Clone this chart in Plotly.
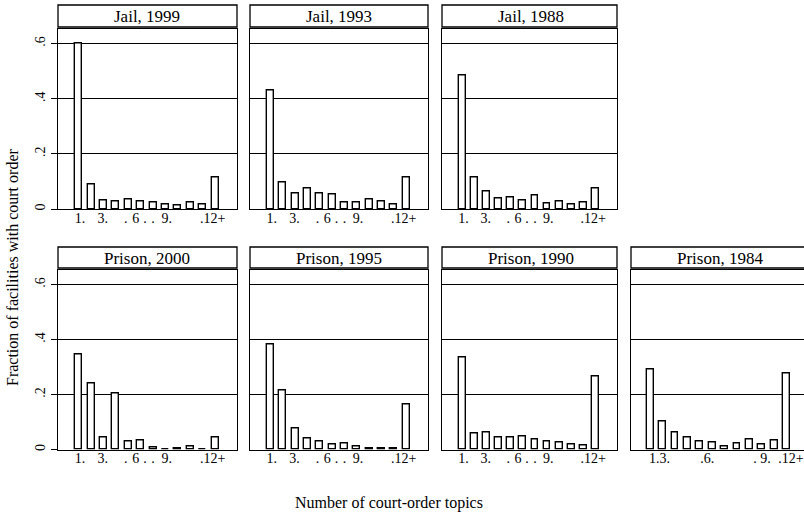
import plotly.graph_objects as go

# ---- data ----
categories = list(range(1, 13))  # 1 .. 11, 12+

jail_1999 = [0.600, 0.088, 0.032, 0.029, 0.035, 0.028, 0.023, 0.017, 0.012, 0.024, 0.018, 0.116]
jail_1993 = [0.429, 0.097, 0.058, 0.076, 0.056, 0.051, 0.024, 0.025, 0.034, 0.028, 0.018, 0.116]
jail_1988 = [0.485, 0.115, 0.062, 0.039, 0.041, 0.032, 0.048, 0.019, 0.027, 0.016, 0.024, 0.076]
prison_2000 = [0.347, 0.240, 0.045, 0.204, 0.029, 0.034, 0.008, 0.001, 0.004, 0.010, 0.000, 0.045]
prison_1995 = [0.381, 0.213, 0.075, 0.041, 0.029, 0.017, 0.021, 0.012, 0.004, 0.002, 0.005, 0.164]
prison_1990 = [0.335, 0.058, 0.061, 0.045, 0.042, 0.046, 0.036, 0.030, 0.024, 0.019, 0.013, 0.264]
prison_1984 = [0.291, 0.101, 0.061, 0.044, 0.028, 0.025, 0.012, 0.022, 0.035, 0.017, 0.034, 0.276]

panel_titles = ["Jail, 1999", "Jail, 1993", "Jail, 1988",
                "Prison, 2000", "Prison, 1995", "Prison, 1990", "Prison, 1984"]
panel_values = [jail_1999, jail_1993, jail_1988,
                prison_2000, prison_1995, prison_1990, prison_1984]

# x tick labels as printed in the (scanned) original
xtick_vals = [1.1, 2.95, 4.8, 5.6, 6.35, 7.0, 8.1, 11.8]
xtick_text = ["1.", "3.", ".", "6", ".", ".", "9.", ".12+"]
xtick_vals_1984 = [1.75, 5.6, 9.45, 10.3, 12.35]
xtick_text_1984 = ["1.3.", ".6.", ".", "9.", ".12+"]

ytick_vals = [0, 0.2, 0.4, 0.6]
ytick_text = ["0", ".2", ".4", ".6"]

x_title = "Number of court-order topics"
y_title = "Fraction of facilities with court order"

# ---- layout geometry (screen pixels) ----
W, H = 804, 518
col_px = [(58, 237), (250, 428), (442, 617), (631, 809)]
row_plot_px = [(28.5, 209), (269.5, 449.5)]   # (top, bottom)
row_strip_px = [(5, 27), (247, 268)]
grid_pos = [(0, 0), (0, 1), (0, 2), (1, 0), (1, 1), (1, 2), (1, 3)]

SERIF = "Liberation Serif"


def px_x(p):
    return min(p / W, 1.0)


def px_y(p):
    return 1 - p / H


fig = go.Figure()
layout = dict(
    width=W, height=H,
    margin=dict(l=0, r=0, t=0, b=0),
    paper_bgcolor="white", plot_bgcolor="white",
    showlegend=False,
    font=dict(family=SERIF, color="black"),
    bargap=0,
)
shapes, annotations = [], []

for i, (title, vals) in enumerate(zip(panel_titles, panel_values)):
    r, c = grid_pos[i]
    n = "" if i == 0 else str(i + 1)
    x0p, x1p = col_px[c]
    top, bot = row_plot_px[r]

    fig.add_trace(go.Bar(
        x=categories, y=vals, width=0.56,
        marker=dict(color="white", line=dict(color="black", width=1.4)),
        xaxis="x" + n, yaxis="y" + n, hoverinfo="skip",
    ))

    if c == 3:
        xr = [-0.55, -0.55 + (W - x0p) / 12.4]
        tv, tt = xtick_vals_1984, xtick_text_1984
    else:
        xr = [-0.67, 13.77]
        tv, tt = xtick_vals, xtick_text

    layout["xaxis" + n] = dict(
        domain=[px_x(x0p), px_x(x1p)], anchor="y" + n,
        range=xr, showgrid=False, zeroline=False,
        showline=True, mirror=True, linecolor="black", linewidth=1.3,
        tickmode="array", tickvals=tv, ticktext=tt, ticks="",
        tickangle=0, ticklabelstandoff=-4,
        tickfont=dict(family=SERIF, size=14, color="black"),
        fixedrange=True,
    )
    layout["yaxis" + n] = dict(
        domain=[px_y(bot), px_y(top)], anchor="x" + n,
        range=[0, 0.655], zeroline=False,
        showgrid=True, gridcolor="black", gridwidth=1,
        showline=True, mirror=(c != 3), linecolor="black", linewidth=1.3,
        tickmode="array", tickvals=ytick_vals, ticktext=ytick_text,
        showticklabels=(c == 0), ticks="outside" if c == 0 else "",
        ticklen=6, tickcolor="black", tickangle=-90,
        tickfont=dict(family=SERIF, size=14, color="black"),
        fixedrange=True,
    )

    s_top, s_bot = row_strip_px[r]
    shapes.append(dict(
        type="rect", xref="paper", yref="paper",
        x0=px_x(x0p), x1=px_x(x1p) if c != 3 else 1.01, y0=px_y(s_bot), y1=px_y(s_top),
        line=dict(color="black", width=1.3), fillcolor="white",
    ))
    annotations.append(dict(
        text=title, xref="paper", yref="paper",
        x=px_x(x0p + 89), y=px_y((s_top + s_bot) / 2 + 0.5),
        xanchor="center", yanchor="middle", showarrow=False,
        font=dict(family=SERIF, size=17, color="black"),
    ))

annotations.append(dict(
    text=x_title, xref="paper", yref="paper",
    x=px_x(389), y=px_y(503), xanchor="center", yanchor="middle",
    showarrow=False, font=dict(family=SERIF, size=16, color="black"),
))
annotations.append(dict(
    text=y_title, xref="paper", yref="paper", textangle=-90,
    x=px_x(12), y=px_y(268), xanchor="center", yanchor="middle",
    showarrow=False, font=dict(family=SERIF, size=16, color="black"),
))

layout["shapes"] = shapes
layout["annotations"] = annotations
fig.update_layout(**layout)
fig.write_html(
    "out.html",
    config={"displayModeBar": False},
    post_script="document.body.style.margin='0';document.body.style.overflow='hidden';",
)
